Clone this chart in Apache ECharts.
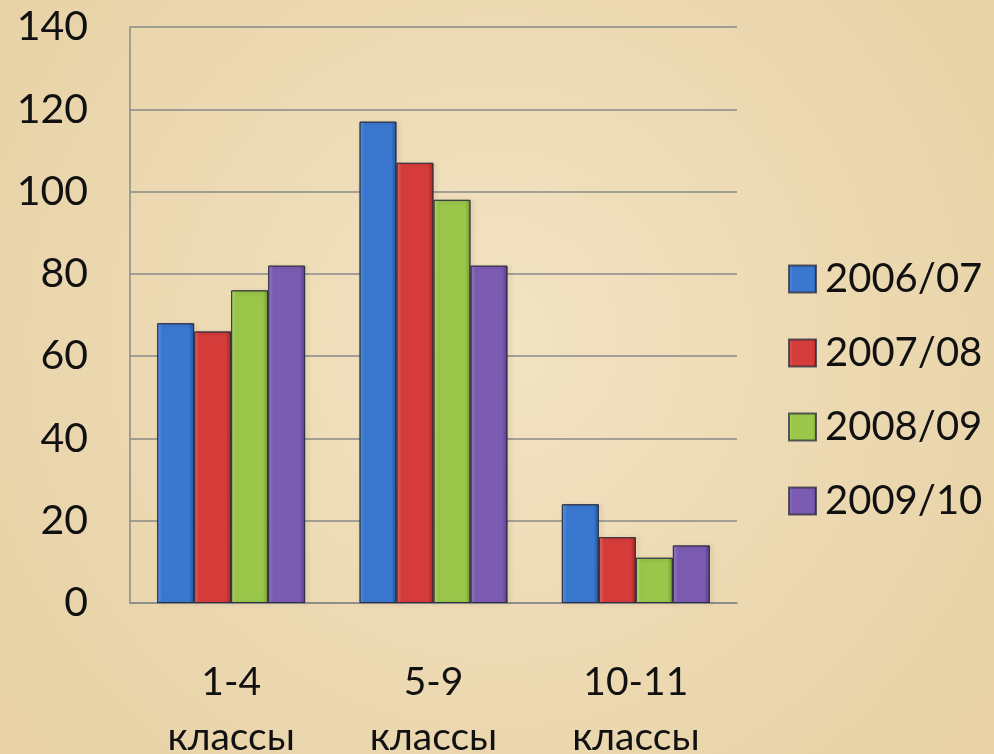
<!DOCTYPE html>
<html>
<head>
<meta charset="utf-8">
<script src="https://cdn.jsdelivr.net/npm/echarts@6/dist/echarts.min.js"></script>
<style>
  html, body { margin: 0; padding: 0; }
  #main { width: 994px; height: 754px; }
</style>
</head>
<body>
<div id="main"></div>
<script>
const categories = ['1-4\nклассы', '5-9\nклассы', '10-11\nклассы']
const seriesNames = ['2006/07', '2007/08', '2008/09', '2009/10']
const values0607 = [68, 117, 24]
const values0708 = [66, 107, 16]
const values0809 = [76, 98, 11]
const values0910 = [82, 82, 14]
const yTicks = [0, 20, 40, 60, 80, 100, 120, 140]

const allValues = [values0607, values0708, values0809, values0910]
// светлый край, основной цвет, тёмный край
const palette = [
  ['#5b9bec', '#3a78d0', '#2358a6'],
  ['#ee6a66', '#d63c3a', '#a82626'],
  ['#b8e06c', '#9ac64a', '#76a030'],
  ['#9c7fcf', '#7c5cb2', '#5a3f8c']
]

const font = 'Lato, "Open Sans", sans-serif'
const myChart = echarts.init(document.querySelector('#main'))

const bevel = (c) => new echarts.graphic.LinearGradient(0, 0, 1, 0, [
  { offset: 0, color: c[0] },
  { offset: 0.15, color: c[1] },
  { offset: 0.85, color: c[1] },
  { offset: 1, color: c[2] }
])

myChart.setOption({
  backgroundColor: new echarts.graphic.RadialGradient(0.5, 0.45, 0.8, [
    { offset: 0, color: '#f2e3c2' },
    { offset: 1, color: '#e8d2a6' }
  ]),
  textStyle: { fontFamily: font },
  grid: { left: 130, right: 257, top: 27, bottom: 151, outerBoundsMode: 'none' },
  legend: {
    orient: 'vertical',
    left: 783,
    top: 254,
    icon: 'rect',
    itemWidth: 27,
    itemHeight: 27,
    itemGap: 34,
    data: seriesNames,
    textStyle: { fontSize: 40, color: '#111', lineHeight: 40, padding: [0, 0, 0, 4], fontFamily: font }
  },
  xAxis: {
    type: 'category',
    data: categories,
    axisLine: { show: true, lineStyle: { color: '#8a8a8a', width: 1.5 } },
    axisTick: { show: false },
    axisLabel: { fontSize: 39, color: '#111', lineHeight: 55, margin: 52, fontFamily: font }
  },
  yAxis: {
    type: 'value',
    min: yTicks[0],
    max: yTicks[yTicks.length - 1],
    interval: 20,
    axisLine: { show: true, lineStyle: { color: '#8a8a8a', width: 1.5 } },
    axisTick: { show: false },
    axisLabel: { fontSize: 41, color: '#111', margin: 42, fontFamily: font },
    splitLine: { lineStyle: { color: '#8a8a8a', width: 1.5 } }
  },
  series: allValues.map((vals, i) => ({
    name: seriesNames[i],
    type: 'bar',
    data: vals,
    barWidth: 37,
    barGap: '0%',
    itemStyle: {
      color: bevel(palette[i]),
      borderColor: 'rgba(40,40,60,0.75)',
      borderWidth: 1,
      shadowColor: 'rgba(0,0,0,0.25)',
      shadowBlur: 4,
      shadowOffsetX: 2,
      shadowOffsetY: 1
    }
  }))
})
</script>
</body>
</html>
